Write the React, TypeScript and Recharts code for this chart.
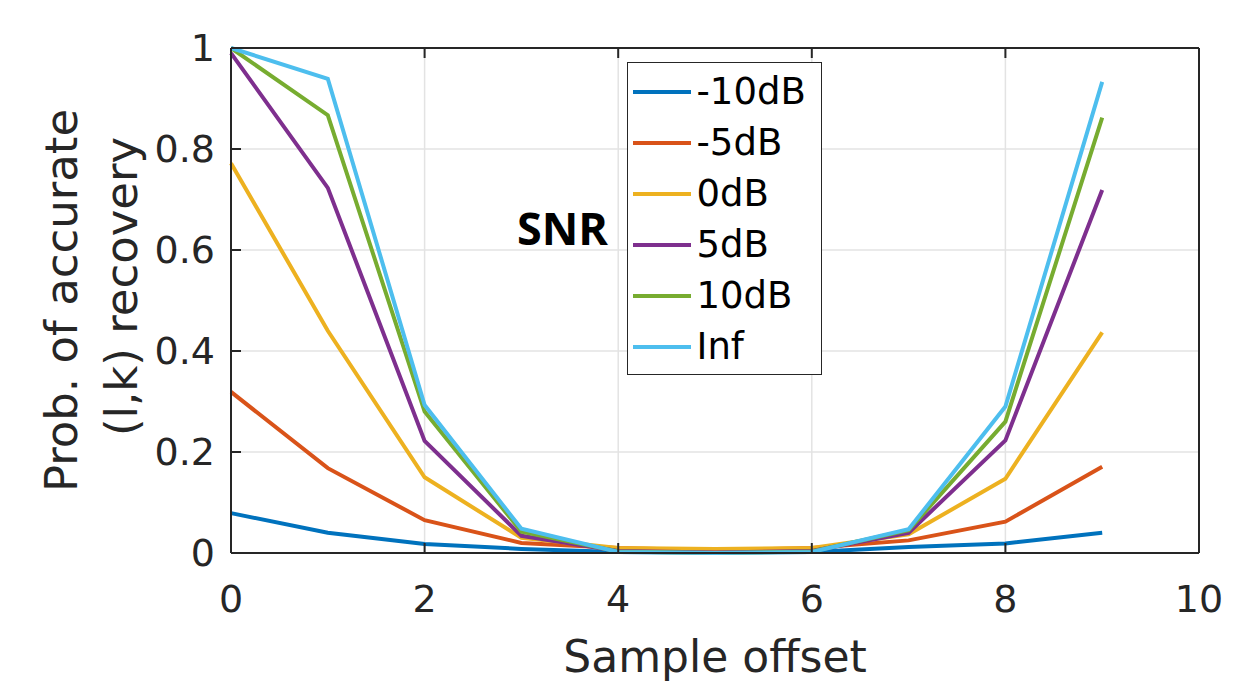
import React from "react"
import { LineChart, Line, XAxis, YAxis, CartesianGrid, Legend } from "recharts"

const offsets = [0, 1, 2, 3, 4, 5, 6, 7, 8, 9]
const xTicks = [0, 2, 4, 6, 8, 10]
const yTicks = [0, 0.2, 0.4, 0.6, 0.8, 1]

const snrM10 = [0.079, 0.04, 0.018, 0.008, 0.002, 0.001, 0.002, 0.012, 0.019, 0.04]
const snrM5 = [0.319, 0.168, 0.065, 0.02, 0.01, 0.005, 0.01, 0.025, 0.062, 0.171]
const snr0 = [0.772, 0.44, 0.15, 0.03, 0.01, 0.008, 0.01, 0.037, 0.147, 0.437]
const snr5 = [0.99, 0.723, 0.222, 0.034, 0.004, 0.001, 0.004, 0.04, 0.223, 0.719]
const snr10 = [1.0, 0.867, 0.28, 0.042, 0.003, 0, 0.003, 0.045, 0.26, 0.862]
const snrInf = [1.0, 0.939, 0.293, 0.048, 0.002, 0, 0.002, 0.047, 0.29, 0.933]

const series = [
  { key: "m10", name: "-10dB", values: snrM10, color: "#0072BD" },
  { key: "m5", name: "-5dB", values: snrM5, color: "#D95319" },
  { key: "p0", name: "0dB", values: snr0, color: "#EDB120" },
  { key: "p5", name: "5dB", values: snr5, color: "#7E2F8E" },
  { key: "p10", name: "10dB", values: snr10, color: "#77AC30" },
  { key: "inf", name: "Inf", values: snrInf, color: "#4DBEEE" },
]

const data = offsets.map((x, i) => {
  const row: Record<string, number> = { x }
  series.forEach((s) => {
    row[s.key] = s.values[i]
  })
  return row
})

const FONT = "'DejaVu Sans', sans-serif"
const AXIS = "#262626"

const fmtY = (v: number) => (v === 0 || v === 1 ? String(v) : v.toFixed(1))

function LegendBox() {
  return (
    <div style={{ position: "relative", width: 195, height: 313 }}>
      <div
        style={{
          position: "absolute",
          left: -110,
          top: 143,
          fontFamily: "'Open Sans', sans-serif",
          fontWeight: 700,
          fontSize: 45,
          lineHeight: "45px",
          color: "#000",
        }}
      >
        SNR
      </div>
      <div
        style={{
          boxSizing: "border-box",
          width: 195,
          height: 313,
          border: `1.5px solid ${AXIS}`,
          background: "#fff",
          paddingTop: 3,
        }}
      >
        {series.map((s) => (
          <div key={s.key} style={{ display: "flex", alignItems: "center", height: 51 }}>
            <svg width={58} height={8} style={{ marginLeft: 4.5, flex: "none" }}>
              <line x1={0} y1={4} x2={58} y2={4} stroke={s.color} strokeWidth={4} />
            </svg>
            <span
              style={{
                marginLeft: 6,
                fontFamily: FONT,
                fontSize: 37,
                lineHeight: "37px",
                color: "#000",
              }}
            >
              {s.name}
            </span>
          </div>
        ))}
      </div>
    </div>
  )
}

function YTitle(props: any) {
  const vb = props.viewBox
  const cy = vb.y + vb.height / 2
  return (
    <g fill={AXIS} fontFamily={FONT} fontSize={45} textAnchor="middle">
      <text x={77} y={cy} transform={`rotate(-90 77 ${cy})`}>
        Prob. of accurate
      </text>
      <text x={137} y={cy - 14} transform={`rotate(-90 137 ${cy - 14})`}>
        (l,k) recovery
      </text>
    </g>
  )
}

function XTitle(props: any) {
  const vb = props.viewBox
  return (
    <text x={vb.x + vb.width / 2} y={vb.y + 119} fill={AXIS} fontFamily={FONT} fontSize={44} textAnchor="middle">
      Sample offset
    </text>
  )
}

export default function App() {
  const tickStyle = { fontSize: 38, fill: AXIS, fontFamily: FONT }
  return (
    <div style={{ position: "absolute", left: 0, top: 0, background: "#fff" }}>
      <LineChart width={1241} height={682} data={data} margin={{ top: 0, right: 0, bottom: 0, left: 0 }}>
        <CartesianGrid stroke="#e3e3e3" strokeWidth={1.5} />
        <XAxis
          dataKey="x"
          type="number"
          domain={[0, 10]}
          ticks={xTicks}
          height={129}
          tick={tickStyle}
          tickSize={-10}
          tickMargin={42}
          axisLine={{ stroke: AXIS, strokeWidth: 2 }}
          tickLine={{ stroke: AXIS, strokeWidth: 2 }}
          label={{ content: XTitle }}
        />
        <XAxis
          xAxisId="top"
          orientation="top"
          dataKey="x"
          type="number"
          domain={[0, 10]}
          ticks={xTicks}
          height={48}
          tickFormatter={() => ""}
          tickSize={-10}
          axisLine={{ stroke: AXIS, strokeWidth: 2 }}
          tickLine={{ stroke: AXIS, strokeWidth: 2 }}
        />
        <YAxis
          type="number"
          domain={[0, 1]}
          ticks={yTicks}
          width={231}
          tick={tickStyle}
          tickFormatter={fmtY}
          tickSize={-10}
          tickMargin={26}
          axisLine={{ stroke: AXIS, strokeWidth: 2 }}
          tickLine={{ stroke: AXIS, strokeWidth: 2 }}
          label={{ content: YTitle }}
        />
        <YAxis
          yAxisId="right"
          orientation="right"
          type="number"
          domain={[0, 1]}
          ticks={yTicks}
          width={42}
          tickFormatter={() => ""}
          tickSize={-10}
          axisLine={{ stroke: AXIS, strokeWidth: 2 }}
          tickLine={{ stroke: AXIS, strokeWidth: 2 }}
        />
        <Legend
          layout="horizontal"
          verticalAlign="middle"
          align="center"
          wrapperStyle={{ left: 627, top: 62, width: 195, height: 313 }}
          content={() => <LegendBox />}
        />
        {series.map((s) => (
          <Line
            key={s.key}
            dataKey={s.key}
            name={s.name}
            type="linear"
            stroke={s.color}
            strokeWidth={4}
            dot={false}
            activeDot={false}
            isAnimationActive={false}
          />
        ))}
      </LineChart>
    </div>
  )
}
